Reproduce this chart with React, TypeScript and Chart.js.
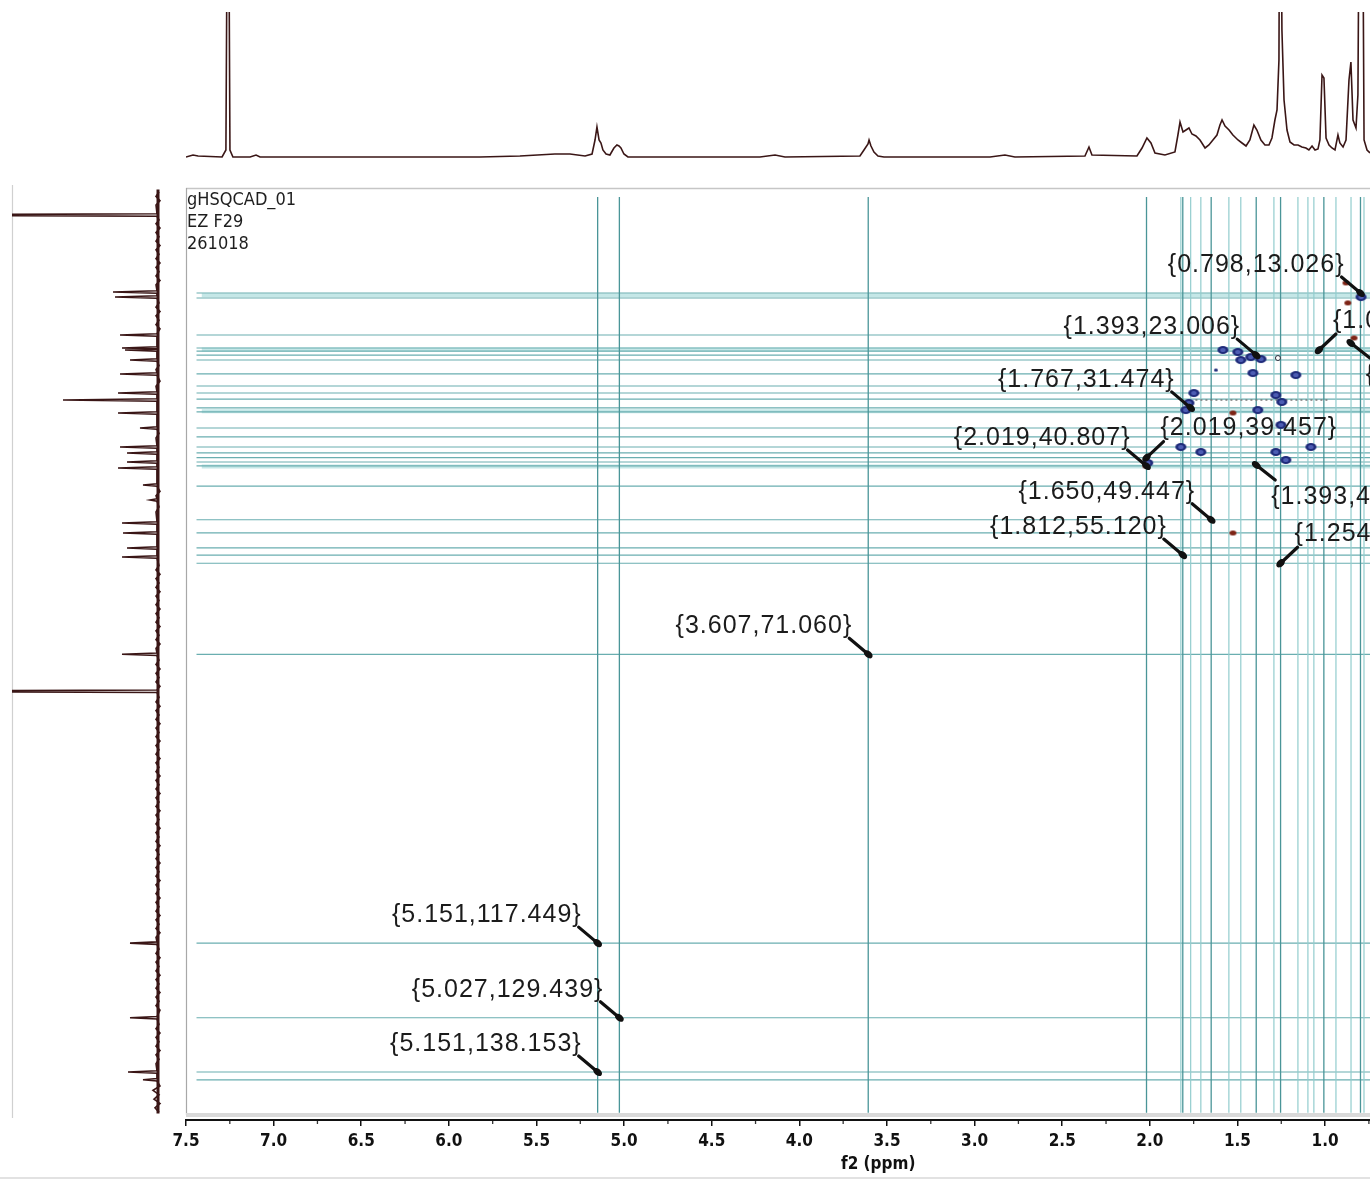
import React, { useEffect, useRef } from "react";
import { Chart, registerables } from "chart.js";

Chart.register(...registerables);

// ---------- axis ranges ----------
const F2_MIN = 0.738;
const F2_MAX = 7.5;
const F1_MIN = -3.84;
const F1_MAX = 145.86;
const TOP_INT_MIN = -3;
const TOP_INT_MAX = 145;
const LEFT_INT_MIN = -8;
const LEFT_INT_MAX = 145;
const X_STEP = 0.5;

const headerLines = ["gHSQCAD_01", "EZ F29", "261018"];
const xAxisTitle = "f2 (ppm)";
const X_TITLE_AT = 3.55;

// ---------- picked cross peaks (f2, f1) ----------
const pickF2 = [0.798, 1.393, 1.035, 0.853, 1.767, 2.019, 2.019, 1.65, 1.393, 1.812, 1.254, 3.607, 5.151, 5.027, 5.151];
const pickF1 = [13.026, 23.006, 22.184, 21.072, 31.474, 40.807, 39.457, 49.447, 40.652, 55.12, 56.432, 71.06, 117.449, 129.439, 138.153];

// ---------- cursor lines ----------
const f2LinesStrong = [5.151, 5.027, 3.607, 2.019, 1.812, 1.65, 1.393, 1.254, 1.007, 0.798];
const f2LinesWeak = [1.823, 1.767, 1.709, 1.549, 1.481, 1.292, 1.155, 1.098, 1.064, 0.938, 0.852, 0.778];
const f1Lines = [13.026, 13.83, 19.77, 21.86, 22.35, 23.006, 23.79, 26.03, 27.96, 29.09, 30.06, 31.474, 32.13, 34.71, 36.15, 37.76, 38.72, 39.457, 40.17, 40.807, 44.03, 49.447, 51.57, 53.98, 55.12, 56.43, 71.06, 117.449, 129.439, 138.153, 139.4];
const f1Bands = [13.4, 22.1, 32.0, 40.9];
const dottedF1 = 30.2;
const dottedF2 = [1.74, 0.98];

// ---------- 2D contour spots ----------
const blueF2 = [1.583, 1.498, 1.481, 1.424, 1.366, 1.412, 1.167, 1.749, 1.777, 1.795, 1.281, 1.247, 1.384, 1.252, 1.823, 1.709, 1.281, 1.224, 1.081, 0.795, 2.012];
const blueF1 = [22.18, 22.5, 23.79, 23.31, 23.63, 25.88, 26.2, 29.09, 30.69, 31.82, 29.41, 30.53, 31.82, 34.21, 37.76, 38.56, 38.56, 39.84, 37.76, 13.67, 40.32];
const smallBlueF2 = [1.623];
const smallBlueF1 = [25.4];
const openF2 = [1.269];
const openF1 = [23.47];
const redF2 = [1.526, 1.526, 0.87, 0.835, 0.881, 2.023];
const redF1 = [32.29, 51.57, 14.62, 20.25, 11.4, 40.81];

// ---------- 1H projection (top) ----------
const topPpm = [7.5, 7.46, 7.431, 7.294, 7.272, 7.26, 7.249, 7.232, 7.134, 7.1, 7.077, 5.821, 5.593, 5.393, 5.307, 5.221, 5.181, 5.164, 5.153, 5.141, 5.13, 5.119, 5.101, 5.079, 5.056, 5.039, 5.027, 5.016, 4.999, 4.976, 4.222, 4.136, 4.079, 3.651, 3.628, 3.605, 3.599, 3.588, 3.571, 3.548, 3.514, 2.908, 2.823, 2.766, 2.366, 2.343, 2.326, 2.069, 2.04, 2.012, 1.989, 1.966, 1.909, 1.852, 1.835, 1.823, 1.806, 1.789, 1.772, 1.755, 1.732, 1.709, 1.68, 1.658, 1.635, 1.612, 1.595, 1.583, 1.566, 1.543, 1.521, 1.492, 1.469, 1.446, 1.424, 1.401, 1.384, 1.361, 1.338, 1.315, 1.298, 1.281, 1.269, 1.258, 1.252, 1.241, 1.229, 1.212, 1.195, 1.172, 1.149, 1.127, 1.104, 1.087, 1.069, 1.052, 1.035, 1.024, 1.012, 1.001, 0.989, 0.972, 0.955, 0.938, 0.921, 0.91, 0.892, 0.875, 0.858, 0.847, 0.835, 0.818, 0.807, 0.795, 0.784, 0.772, 0.755, 0.738];
const topInt = [0, 2, 1, 0, 7, 400, 7, 0, 0, 2, 0, 0, 1, 3, 3, 1, 3, 17, 30, 17, 14, 7, 3, 2, 9, 12, 11, 9, 3, 0, 0, 2, 0, 1, 7, 13, 17, 11, 5, 1, 0, 0, 2, 0, 1, 10, 2, 1, 9, 19, 14, 4, 2, 5, 22, 35, 25, 27, 29, 23, 21, 17, 9, 12, 17, 22, 32, 37, 31, 27, 22, 17, 14, 11, 17, 32, 27, 17, 12, 12, 19, 37, 47, 97, 400, 127, 57, 27, 15, 12, 12, 10, 9, 7, 11, 7, 8, 17, 82, 79, 19, 12, 9, 7, 22, 14, 10, 17, 77, 95, 37, 29, 62, 400, 400, 17, 7, 4];

// ---------- 13C projection (left) ----------
const leftPeakF1 = [0.5, 12.87, 13.67, 19.77, 21.86, 22.18, 23.79, 26.03, 29.09, 30.21, 32.29, 34.7, 37.76, 38.72, 40.17, 41.13, 43.86, 46.27, 49.97, 51.57, 53.98, 55.42, 71.06, 77.0, 117.45, 129.44, 138.15, 139.4];
const leftPeakInt = [300, 44, 42, 37, 35, 32, 27, 37, 39, 94, 39, 17, 37, 30, 30, 39, 14, 7, 35, 34, 30, 35, 35, 300, 27, 27, 29, 14];
const leftNoise: [number, number][] = [
  [-3.2, -2], [-2.5, 1], [-1.8, -3], [-1.1, 1], [1.3, -2], [1.9, 1], [2.6, -3], [3.3, 1], [4.0, -2], [4.7, 1], [5.4, -3], [6.1, 1],
  [6.8, -2], [7.5, 1], [8.2, -3], [8.9, 1], [9.6, -2], [10.3, 1], [11.0, -3], [11.7, 1], [14.6, -2], [15.3, 1], [16.0, -3], [16.7, 1],
  [17.4, -2], [18.1, 1], [18.8, -3], [24.7, -2], [25.3, 1], [27.2, -3], [28.0, 1], [35.6, -2], [36.3, 1], [44.9, -3], [45.6, 1],
  [47.4, -2], [48.2, 1], [56.8, -2], [57.5, 1], [58.2, -3], [58.9, 1], [59.6, -2], [60.3, 1], [61.0, -3], [61.7, 1], [62.4, -2],
  [63.1, 1], [63.8, -3], [64.5, 1], [65.2, -2], [65.9, 1], [66.6, -3], [67.3, 1], [68.0, -2], [68.7, 1], [69.4, -3], [70.1, 1],
  [72.0, -2], [72.7, 1], [73.4, -3], [74.1, 1], [74.8, -2], [75.5, 1], [76.2, -3], [78.0, -2], [78.7, 1], [79.4, -3], [80.1, 1],
  [80.8, -2], [81.5, 1], [82.2, -3], [82.9, 1], [83.6, -2], [84.3, 1], [85.0, -3], [85.7, 1], [86.4, -2], [87.1, 1], [87.8, -3],
  [88.5, 1], [89.2, -2], [89.9, 1], [90.6, -3], [91.3, 1], [92.0, -2], [92.7, 1], [93.4, -3], [94.1, 1], [94.8, -2], [95.5, 1],
  [96.2, -3], [96.9, 1], [97.6, -2], [98.3, 1], [99.0, -3], [99.7, 1], [100.4, -2], [101.1, 1], [101.8, -3], [102.5, 1], [103.2, -2],
  [103.9, 1], [104.6, -3], [105.3, 1], [106.0, -2], [106.7, 1], [107.4, -3], [108.1, 1], [108.8, -2], [109.5, 1], [110.2, -3],
  [110.9, 1], [111.6, -2], [112.3, 1], [113.0, -3], [113.7, 1], [114.4, -2], [115.1, 1], [115.8, -3], [116.5, 1], [118.4, -2],
  [119.1, 1], [119.8, -3], [120.5, 1], [121.2, -2], [121.9, 1], [122.6, -3], [123.3, 1], [124.0, -2], [124.7, 1], [125.4, -3],
  [126.1, 1], [126.8, -2], [127.5, 1], [128.2, -3], [130.5, -2], [131.2, 1], [131.9, -3], [132.6, 1], [133.3, -2], [134.0, 1],
  [134.7, -3], [135.4, 1], [136.1, -2], [136.8, 1], [140.4, -3], [141.1, 4], [141.8, -2], [142.5, 3], [143.2, -3], [143.9, 2], [144.6, -2],
];
const leftBaseRange = [-3.6, 144.8];

// ---------- styles ----------
const AXIS_FONT = '"DejaVu Sans Condensed", "Liberation Sans Narrow", "DejaVu Sans", sans-serif';
const LABEL_FONT = '"Liberation Sans", Arial, sans-serif';
const SPEC_COLOR = "#3a1616";
const LABEL_PLACEMENT = ["ul", "ul", "ur", "dr", "ul", "ul", "ur", "ul", "dr", "ul", "ur", "ul", "ul", "ul", "ul"];
const MAIN_W = 1378;

function makeBlob(w: number, h: number, fill: string, ring?: string) {
  const c = document.createElement("canvas");
  c.width = w + 2;
  c.height = h + 2;
  const g = c.getContext("2d")!;
  g.fillStyle = fill;
  g.beginPath();
  g.ellipse((w + 2) / 2, (h + 2) / 2, w / 2, h / 2, 0, 0, Math.PI * 2);
  g.fill();
  if (ring) {
    g.fillStyle = ring;
    g.beginPath();
    g.ellipse((w + 2) / 2, (h + 2) / 2, w / 4, h / 4, 0, 0, Math.PI * 2);
    g.fill();
  }
  return c;
}

const noEvents = { events: [] as any[] };

export default function App() {
  const mainRef = useRef<HTMLCanvasElement>(null);
  const topRef = useRef<HTMLCanvasElement>(null);
  const leftRef = useRef<HTMLCanvasElement>(null);

  useEffect(() => {
    const charts: Chart[] = [];

    // ----- main HSQC chart -----
    const lineDs = (pts: { x: number; y: number }[], color: string, width: number, order: number, dash?: number[]) => ({
      type: "scatter" as const,
      data: pts,
      showLine: true,
      borderColor: color,
      borderWidth: width,
      borderDash: dash || [],
      pointRadius: 0,
      fill: false,
      order,
    });
    const datasets: any[] = [];
    const blueBlob = makeBlob(11, 8, "#1f2b7a", "#4d5db3");
    const smallBlue = makeBlob(4, 3, "#1f2b7a");
    const redBlob = makeBlob(7, 5, "#7e2416");

    datasets.push({
      data: blueF2.map((x, i) => ({ x, y: blueF1[i] })),
      pointStyle: blueBlob,
      pointRadius: 6,
      order: 1,
    });
    datasets.push({
      data: smallBlueF2.map((x, i) => ({ x, y: smallBlueF1[i] })),
      pointStyle: smallBlue,
      pointRadius: 3,
      order: 1,
    });
    datasets.push({
      data: redF2.map((x, i) => ({ x, y: redF1[i] })),
      pointStyle: redBlob,
      pointRadius: 4,
      order: 0,
    });
    datasets.push({
      data: openF2.map((x, i) => ({ x, y: openF1[i] })),
      pointStyle: "circle",
      pointRadius: 2.5,
      borderColor: "#2a2a3a",
      borderWidth: 1,
      backgroundColor: "#ffffff",
      order: 0,
    });
    datasets.push(
      lineDs(
        [{ x: dottedF2[0], y: dottedF1 }, { x: dottedF2[1], y: dottedF1 }],
        "#7a7a7a",
        1.5,
        5,
        [2, 3]
      )
    );
    f2LinesStrong.forEach((v) =>
      datasets.push(lineDs([{ x: v, y: -2.4 }, { x: v, y: 144.7 }], "#4a9598", 1.3, 10))
    );
    f2LinesWeak.forEach((v) =>
      datasets.push(lineDs([{ x: v, y: -2.4 }, { x: v, y: 144.7 }], "#93cdce", 1.2, 11))
    );
    f1Lines.forEach((v) =>
      datasets.push(lineDs([{ x: 7.44, y: v }, { x: F2_MIN, y: v }], "#6aaeb0", 1.2, 12))
    );
    f1Bands.forEach((v) =>
      datasets.push(lineDs([{ x: 7.41, y: v }, { x: F2_MIN, y: v }], "rgba(150,212,212,0.55)", 4, 13))
    );

    const minorTicks: number[] = [];
    for (let v = F2_MAX - X_STEP / 2; v > F2_MIN; v -= X_STEP) minorTicks.push(v);

    const mainDecor = {
      id: "mainDecor",
      beforeDatasetsDraw(chart: any) {
        const { ctx, chartArea: a } = chart;
        ctx.save();
        ctx.strokeStyle = "#c6c6c6";
        ctx.lineWidth = 1.5;
        ctx.beginPath();
        ctx.moveTo(a.left, a.top + 0.5);
        ctx.lineTo(a.right, a.top + 0.5);
        ctx.stroke();
        ctx.strokeStyle = "#a8a8a8";
        ctx.lineWidth = 1.2;
        ctx.beginPath();
        ctx.moveTo(a.left + 0.5, a.top);
        ctx.lineTo(a.left + 0.5, a.bottom - 5);
        ctx.stroke();
        ctx.strokeStyle = "#d9d9d9";
        ctx.lineWidth = 4;
        ctx.beginPath();
        ctx.moveTo(a.left, a.bottom - 5);
        ctx.lineTo(a.right, a.bottom - 5);
        ctx.stroke();
        ctx.strokeStyle = "#e2e2e2";
        ctx.lineWidth = 2;
        ctx.beginPath();
        ctx.moveTo(0, chart.height - 2);
        ctx.lineTo(chart.width, chart.height - 2);
        ctx.stroke();
        ctx.restore();
      },
      afterDraw(chart: any) {
        const { ctx, chartArea: a } = chart;
        const xs = chart.scales.x;
        const ys = chart.scales.y;
        ctx.save();
        // minor ticks
        ctx.strokeStyle = "#333";
        ctx.lineWidth = 1.3;
        minorTicks.forEach((v) => {
          const px = xs.getPixelForValue(v);
          ctx.beginPath();
          ctx.moveTo(px, a.bottom + 1);
          ctx.lineTo(px, a.bottom + 4);
          ctx.stroke();
        });
        // axis title
        ctx.fillStyle = "#111";
        ctx.font = `bold 17px ${AXIS_FONT}`;
        ctx.textAlign = "center";
        ctx.textBaseline = "middle";
        ctx.fillText(xAxisTitle, xs.getPixelForValue(X_TITLE_AT), a.bottom + 45);
        // header
        ctx.font = `18px ${AXIS_FONT}`;
        ctx.textAlign = "left";
        ctx.fillStyle = "#1e1e1e";
        headerLines.forEach((t, i) => ctx.fillText(t, a.left + 1, a.top + 12 + i * 22));
        // picked peaks
        pickF2.forEach((f2, i) => {
          const f1 = pickF1[i];
          const px = xs.getPixelForValue(f2);
          const py = ys.getPixelForValue(f1);
          const side = LABEL_PLACEMENT[i];
          let sx: number, sy: number, tx: number, ty: number, align: CanvasTextAlign;
          if (side === "ul") {
            sx = px - 19; sy = py - 16; tx = px - 16; ty = py - 28; align = "right";
          } else if (side === "ur") {
            sx = px + 17; sy = py - 16; tx = px + 14; ty = py - 29; align = "left";
          } else {
            sx = px + 19; sy = py + 15; tx = px + 15; ty = py + 32; align = "left";
          }
          ctx.strokeStyle = "#111";
          ctx.lineWidth = 3.2;
          ctx.lineCap = "round";
          ctx.beginPath();
          ctx.moveTo(sx, sy);
          ctx.lineTo(px, py);
          ctx.stroke();
          const ang = Math.atan2(py - sy, px - sx);
          ctx.fillStyle = "#111";
          ctx.beginPath();
          ctx.ellipse(px, py, 5, 3.3, ang, 0, Math.PI * 2);
          ctx.fill();
          ctx.fillStyle = "#1b1b1b";
          ctx.font = `25px ${LABEL_FONT}`;
          (ctx as any).letterSpacing = "1px";
          ctx.textAlign = align;
          ctx.textBaseline = "middle";
          ctx.fillText(`{${f2.toFixed(3)},${f1.toFixed(3)}}`, tx, ty);
          (ctx as any).letterSpacing = "0px";
        });
        ctx.restore();
      },
    };

    if (mainRef.current) {
      charts.push(
        new Chart(mainRef.current, {
          type: "scatter",
          data: { datasets },
          plugins: [mainDecor],
          options: {
            animation: false,
            responsive: false,
            ...noEvents,
            layout: { padding: { left: 186, right: 0, top: 188, bottom: 0 } },
            plugins: { legend: { display: false }, tooltip: { enabled: false } },
            scales: {
              x: {
                type: "linear",
                min: F2_MIN,
                max: F2_MAX,
                reverse: true,
                afterFit: (s: any) => {
                  s.height = 60;
                },
                grid: { drawOnChartArea: false, drawTicks: true, tickLength: 6, color: "#111", lineWidth: 1.5 },
                border: { display: true, color: "#111", width: 2 },
                ticks: {
                  stepSize: X_STEP,
                  includeBounds: false,
                  autoSkip: false,
                  maxRotation: 0,
                  padding: 5,
                  color: "#111",
                  font: { family: AXIS_FONT, size: 17, weight: "bold" },
                  callback: (v: any) => Number(v).toFixed(1),
                },
              },
              y: { type: "linear", min: F1_MIN, max: F1_MAX, reverse: true, display: false },
            },
          } as any,
        })
      );
    }

    // ----- top 1H projection -----
    if (topRef.current) {
      charts.push(
        new Chart(topRef.current, {
          type: "scatter",
          data: {
            datasets: [
              {
                data: topPpm.map((x, i) => ({ x, y: topInt[i] })),
                showLine: true,
                borderColor: SPEC_COLOR,
                borderWidth: 1.6,
                pointRadius: 0,
                tension: 0,
              } as any,
            ],
          },
          options: {
            animation: false,
            responsive: false,
            ...noEvents,
            layout: { padding: { left: 186, right: 0, top: 12, bottom: 28 } },
            plugins: { legend: { display: false }, tooltip: { enabled: false } },
            scales: {
              x: { type: "linear", min: F2_MIN, max: F2_MAX, reverse: true, display: false },
              y: { type: "linear", min: TOP_INT_MIN, max: TOP_INT_MAX, display: false },
            },
          } as any,
        })
      );
    }

    // ----- left 13C projection -----
    const leftPts: { x: number; y: number }[] = [];
    leftPeakF1.forEach((f, i) => {
      leftPts.push({ y: f - 0.2, x: 0 }, { y: f, x: leftPeakInt[i] }, { y: f + 0.2, x: 0 });
    });
    leftNoise.forEach(([f, v]) => leftPts.push({ y: f, x: v }));
    leftPts.sort((p, q) => p.y - q.y);

    const leftDecor = {
      id: "leftDecor",
      beforeDatasetsDraw(chart: any) {
        const { ctx, chartArea: a } = chart;
        ctx.save();
        ctx.strokeStyle = "#d0d0d0";
        ctx.lineWidth = 1.2;
        ctx.beginPath();
        ctx.moveTo(a.left + 0.5, a.top - 3);
        ctx.lineTo(a.left + 0.5, a.bottom - 2);
        ctx.stroke();
        ctx.restore();
      },
    };

    if (leftRef.current) {
      charts.push(
        new Chart(leftRef.current, {
          type: "scatter",
          data: {
            datasets: [
              {
                data: leftPts,
                showLine: true,
                borderColor: SPEC_COLOR,
                borderWidth: 1.6,
                pointRadius: 0,
                tension: 0,
              } as any,
              {
                data: [
                  { x: -1, y: leftBaseRange[0] },
                  { x: -1, y: leftBaseRange[1] },
                ],
                showLine: true,
                borderColor: SPEC_COLOR,
                borderWidth: 3,
                pointRadius: 0,
              } as any,
            ],
          },
          plugins: [leftDecor],
          options: {
            animation: false,
            responsive: false,
            ...noEvents,
            layout: { padding: { left: 12, right: 21, top: 188, bottom: 60 } },
            plugins: { legend: { display: false }, tooltip: { enabled: false } },
            scales: {
              x: { type: "linear", min: LEFT_INT_MIN, max: LEFT_INT_MAX, reverse: true, display: false },
              y: { type: "linear", min: F1_MIN, max: F1_MAX, reverse: true, display: false },
            },
          } as any,
        })
      );
    }

    return () => charts.forEach((c) => c.destroy());
  }, []);

  return (
    <div
      style={{
        position: "absolute",
        left: 0,
        top: 0,
        width: 1370,
        height: 1180,
        overflow: "hidden",
        background: "#ffffff",
      }}
    >
      <canvas ref={mainRef} width={MAIN_W} height={1180} style={{ position: "absolute", left: 0, top: 0 }} />
      <canvas ref={topRef} width={1370} height={188} style={{ position: "absolute", left: 0, top: 0 }} />
      <canvas ref={leftRef} width={186} height={1180} style={{ position: "absolute", left: 0, top: 0 }} />
    </div>
  );
}
